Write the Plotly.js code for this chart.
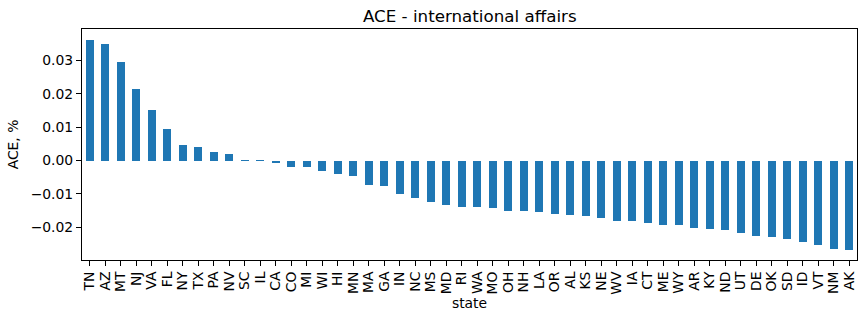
<!DOCTYPE html>
<html>
<head>
<meta charset="utf-8">
<script src="https://cdn.plot.ly/plotly-3.0.1.min.js"></script>
<style>html,body{margin:0;padding:0;background:#fff;}#chart{width:866px;height:323px;}</style>
</head>
<body>
<div id="chart"></div>
<script>
const states = ["TN","AZ","MT","NJ","VA","FL","NY","TX","PA","NV","SC","IL","CA","CO","MI","WI","HI","MN","MA","GA","IN","NC","MS","MD","RI","WA","MO","OH","NH","LA","OR","AL","KS","NE","WV","IA","CT","ME","WY","AR","KY","ND","UT","DE","OK","SD","ID","VT","NM","AK"];
const aceValues = [0.0362,0.0348,0.0296,0.0215,0.0150,0.0093,0.0046,0.0040,0.0025,0.0019,0.0002,0.0002,-0.0008,-0.0020,-0.0020,-0.0032,-0.0041,-0.0047,-0.0074,-0.0077,-0.0101,-0.0113,-0.0125,-0.0134,-0.0140,-0.0140,-0.0143,-0.0152,-0.0152,-0.0155,-0.0161,-0.0164,-0.0167,-0.0173,-0.0182,-0.0182,-0.0188,-0.0194,-0.0194,-0.0203,-0.0206,-0.0209,-0.0218,-0.0227,-0.0230,-0.0236,-0.0245,-0.0254,-0.0263,-0.0266];
const yTicks = [-0.02,-0.01,0.00,0.01,0.02,0.03];
const chartTitle = "ACE - international affairs";
const xTitle = "state";
const yTitle = "ACE, %";

const idx = states.map((s,i)=>i);
const ymin = Math.min(...aceValues), ymax = Math.max(...aceValues);
const pad = (ymax - ymin) * 0.05;

const trace = {
  type: "bar",
  x: idx,
  y: aceValues,
  width: 0.5,
  marker: {color: "#1f77b4"},
  hoverinfo: "x+y"
};

const axisFont = {family: "DejaVu Sans", size: 13.9, color: "#000"};
const layout = {
  width: 866, height: 323,
  margin: {l: 82, r: 9, t: 29, b: 63},
  paper_bgcolor: "#fff", plot_bgcolor: "#fff",
  showlegend: false,
  font: axisFont,
  title: {text: chartTitle, font: {family: "DejaVu Sans", size: 16.7, color: "#000"}, x: 0.5425, xanchor: "center", y: 0.95, yanchor: "middle"},
  xaxis: {
    range: [-0.5, states.length - 0.5],
    tickmode: "array", tickvals: idx, ticktext: states, tickangle: -90,
    ticks: "outside", ticklen: 5, tickwidth: 1, tickcolor: "#000",
    showline: true, linecolor: "#000", linewidth: 1, mirror: true,
    showgrid: false, zeroline: false,
    tickfont: axisFont,
    title: {text: xTitle, font: axisFont, standoff: 4}
  },
  yaxis: {
    range: [ymin - pad, ymax + pad],
    tickmode: "array", tickvals: yTicks, tickformat: ".2f",
    ticks: "outside", ticklen: 5, tickwidth: 1, tickcolor: "#000",
    showline: true, linecolor: "#000", linewidth: 1, mirror: true,
    showgrid: false, zeroline: false,
    tickfont: axisFont,
    title: {text: yTitle, font: axisFont, standoff: 8}
  },
  bargap: 0
};

Plotly.newPlot("chart", [trace], layout, {displayModeBar: false, staticPlot: true});
</script>
</body>
</html>
